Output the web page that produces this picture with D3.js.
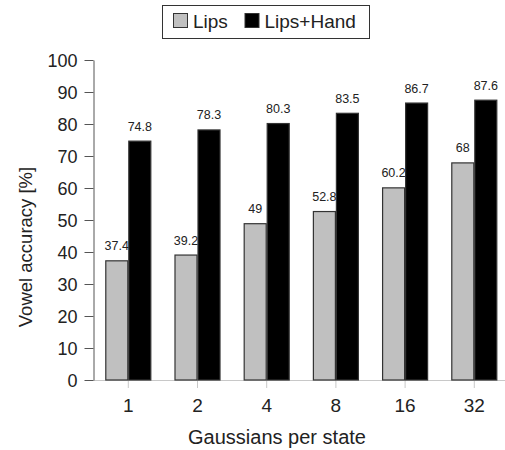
<!DOCTYPE html>
<html>
<head>
<meta charset="utf-8">
<script src="https://cdn.jsdelivr.net/npm/d3@7"></script>
<style>
  html, body { margin: 0; padding: 0; background: #fff; }
  svg { display: block; font-family: "Liberation Sans", Arial, sans-serif; }
</style>
</head>
<body>
<svg id="chart" width="505" height="450"></svg>
<script>
const categories = ["1", "2", "4", "8", "16", "32"];
const seriesNames = ["Lips", "Lips+Hand"];
const lipsValues = [37.4, 39.2, 49, 52.8, 60.2, 68];
const lipsHandValues = [74.8, 78.3, 80.3, 83.5, 86.7, 87.6];
const yTicks = [0, 10, 20, 30, 40, 50, 60, 70, 80, 90, 100];
const colors = ["#c0c0c0", "#000000"];

const series = [lipsValues, lipsHandValues];
const svg = d3.select("#chart");

const x = d3.scaleBand().domain(categories).range([93.7, 508.9])
  .paddingInner(0.335).paddingOuter(0.1675);
const xs = d3.scaleBand().domain(seriesNames).range([0, x.bandwidth()]);
const y = d3.scaleLinear().domain([0, 100]).range([380, 60]);

// x axis (light gray)
const xAxis = svg.append("g").attr("transform", "translate(0,380)")
  .call(d3.axisBottom(x).tickSize(8).tickSizeOuter(0));
xAxis.select(".domain").remove();
xAxis.selectAll(".tick line").attr("stroke", "#c8c8c8").attr("y1", 0);
xAxis.selectAll(".tick text").attr("fill", "#222").attr("font-size", "19px")
  .attr("dy", 0).attr("y", 32);
svg.append("line").attr("x1", 93.5).attr("x2", 505).attr("y1", 380.5).attr("y2", 380.5)
  .attr("stroke", "#c8c8c8").attr("stroke-width", 1.2);

// y axis
const yAxis = svg.append("g").attr("transform", "translate(93.5,0)")
  .call(d3.axisLeft(y).tickValues(yTicks).tickSize(9).tickSizeOuter(0));
yAxis.select(".domain").attr("stroke", "#555");
yAxis.selectAll(".tick line").attr("stroke", "#555");
yAxis.selectAll(".tick text").attr("fill", "#222").attr("font-size", "18px")
  .attr("x", -16).attr("dy", "0.35em");

// bars + labels
series.forEach((vals, si) => {
  const g = svg.append("g");
  g.selectAll("rect").data(vals).join("rect")
    .attr("x", (d, i) => x(categories[i]) + xs(seriesNames[si]) + 0.5)
    .attr("y", d => y(d) + 0.5)
    .attr("width", xs.bandwidth() - 1)
    .attr("height", d => y(0) - y(d) - 0.5)
    .attr("fill", colors[si])
    .attr("stroke", "#333")
    .attr("stroke-width", 1.2);
  g.selectAll("text").data(vals).join("text")
    .attr("x", (d, i) => x(categories[i]) + xs(seriesNames[si]) + xs.bandwidth() / 2)
    .attr("y", d => y(d) - 10)
    .attr("text-anchor", "middle")
    .attr("font-size", "12.5px")
    .attr("fill", "#222")
    .text(d => d);
});

// axis titles
svg.append("text").attr("x", 277).attr("y", 444).attr("text-anchor", "middle")
  .attr("font-size", "20px").attr("fill", "#222").text("Gaussians per state");
svg.append("text").attr("transform", "translate(32,247) rotate(-90)")
  .attr("text-anchor", "middle").attr("font-size", "18.5px").attr("fill", "#222")
  .text("Vowel accuracy [%]");

// legend
const legend = svg.append("g");
legend.append("rect").attr("x", 162.5).attr("y", 5.5).attr("width", 207).attr("height", 33)
  .attr("fill", "#fff").attr("stroke", "#333").attr("stroke-width", 1);
const legX = [173, 244.5];
seriesNames.forEach((name, i) => {
  legend.append("rect").attr("x", legX[i] + 0.5).attr("y", 13.5).attr("width", 14).attr("height", 14)
    .attr("fill", colors[i]).attr("stroke", "#333").attr("stroke-width", 1);
  legend.append("text").attr("x", legX[i] + 20).attr("y", 28)
    .attr("font-size", "19px").attr("fill", "#222").text(name);
});
</script>
</body>
</html>
